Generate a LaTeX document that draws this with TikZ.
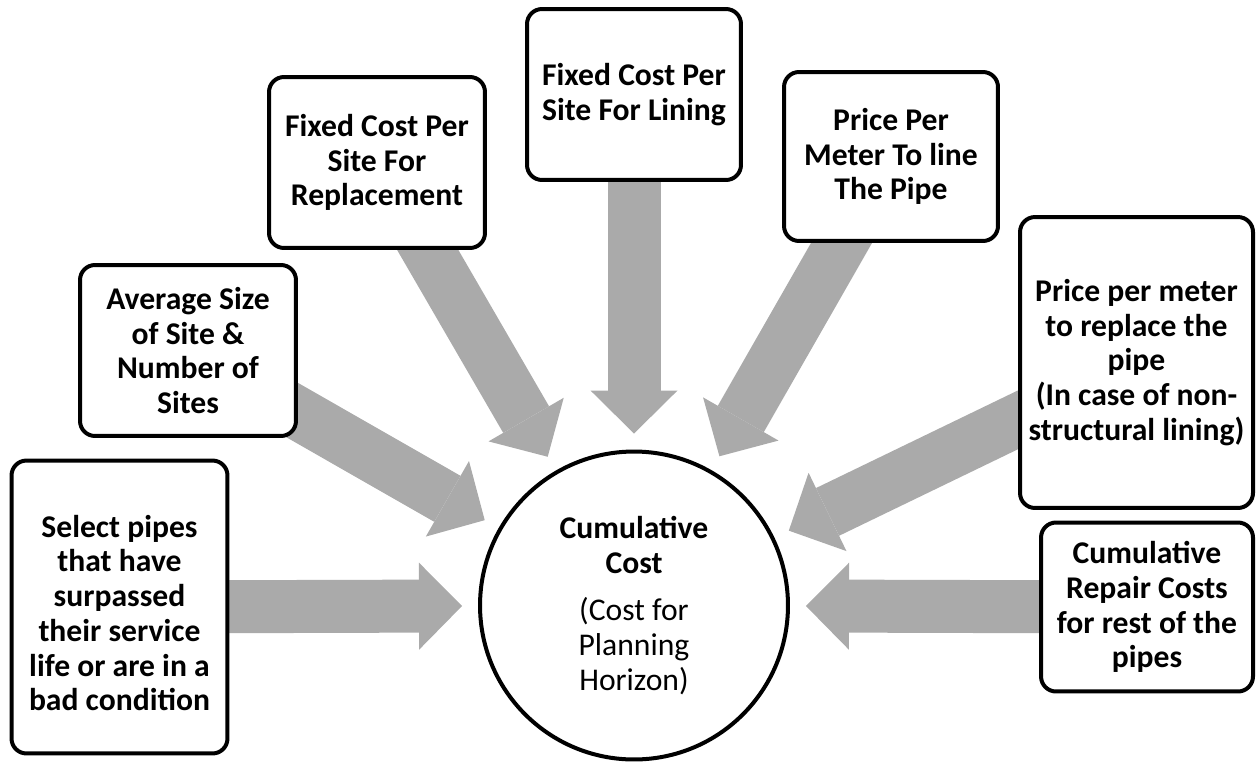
\documentclass[tikz,border=0pt]{standalone}
\usepackage{fontspec}
\setmainfont{Carlito}
\usetikzlibrary{arrows.meta,calc}
\pgfdeclarelayer{back}
\pgfsetlayers{back,main}
\definecolor{flowgray}{RGB}{170,170,170}
\tikzset{
  inputbox/.style={draw, line width=0.08cm, rounded corners=0.3cm, fill=white,
    align=center, inner sep=0pt, font=\bfseries\fontsize{18}{19.8}\selectfont},
  hub/.style={circle, draw, line width=0.08cm, fill=white, minimum size=6.16cm,
    align=center, inner sep=0pt, font=\fontsize{18}{19.8}\selectfont},
  feed/.style={draw=flowgray, line width=1.06cm,
    -{Triangle[length=0.86cm,width=1.74cm,line width=0pt]}}
}
\begin{document}
\begin{tikzpicture}[x=0.02cm, y=-0.02cm]
  \useasboundingbox (0,0) rectangle (1256,761);

  % central cost node
  \node[hub] (hub) at (634,605.5)
    {\textbf{Cumulative}\\\textbf{Cost}\\[7pt](Cost for\\Planning\\Horizon)};

  % input boxes around it
  \node[inputbox, minimum width=4.32cm, minimum height=5.86cm] (sel) at (119.5,607)
    {\rule{0pt}{19.5pt}Select pipes\\that have\\surpassed\\their service\\life or are in a\\bad condition};
  \node[inputbox, minimum width=4.32cm, minimum height=3.42cm] (avg) at (188,350.5)
    {Average Size\\of Site \&\\Number of\\Sites};
  \node[inputbox, minimum width=4.32cm, minimum height=3.42cm] (fixrep) at (377,162.5)
    {Fixed Cost Per\\Site For\\Replacement};
  \node[inputbox, minimum width=4.28cm, minimum height=3.42cm] (fixlin) at (634,94.5)
    {Fixed Cost Per\\Site For Lining};
  \node[inputbox, minimum width=4.28cm, minimum height=3.38cm] (pricelin) at (891,156.5)
    {Price Per\\Meter To line\\The Pipe};
  \node[inputbox, minimum width=4.66cm, minimum height=5.82cm] (pricerep) at (1136.5,362.5)
    {Price per meter\\to replace the\\pipe\\(In case of non-\\structural lining)};
  \node[inputbox, minimum width=4.24cm, minimum height=3.38cm] (repair) at (1147,607)
    {Cumulative\\Repair Costs\\for rest of the\\pipes};

  % wide grey arrows feeding the centre, tips on a common radius
  \foreach \s in {sel,avg,fixrep,fixlin,pricelin,pricerep,repair}{
    \coordinate (tip-\s) at ($(hub.center)!3.44cm!(\s.center)$);
    \begin{pgfonlayer}{back}
      \draw[feed] (\s.center) -- (tip-\s);
    \end{pgfonlayer}
  }
\end{tikzpicture}
\end{document}
